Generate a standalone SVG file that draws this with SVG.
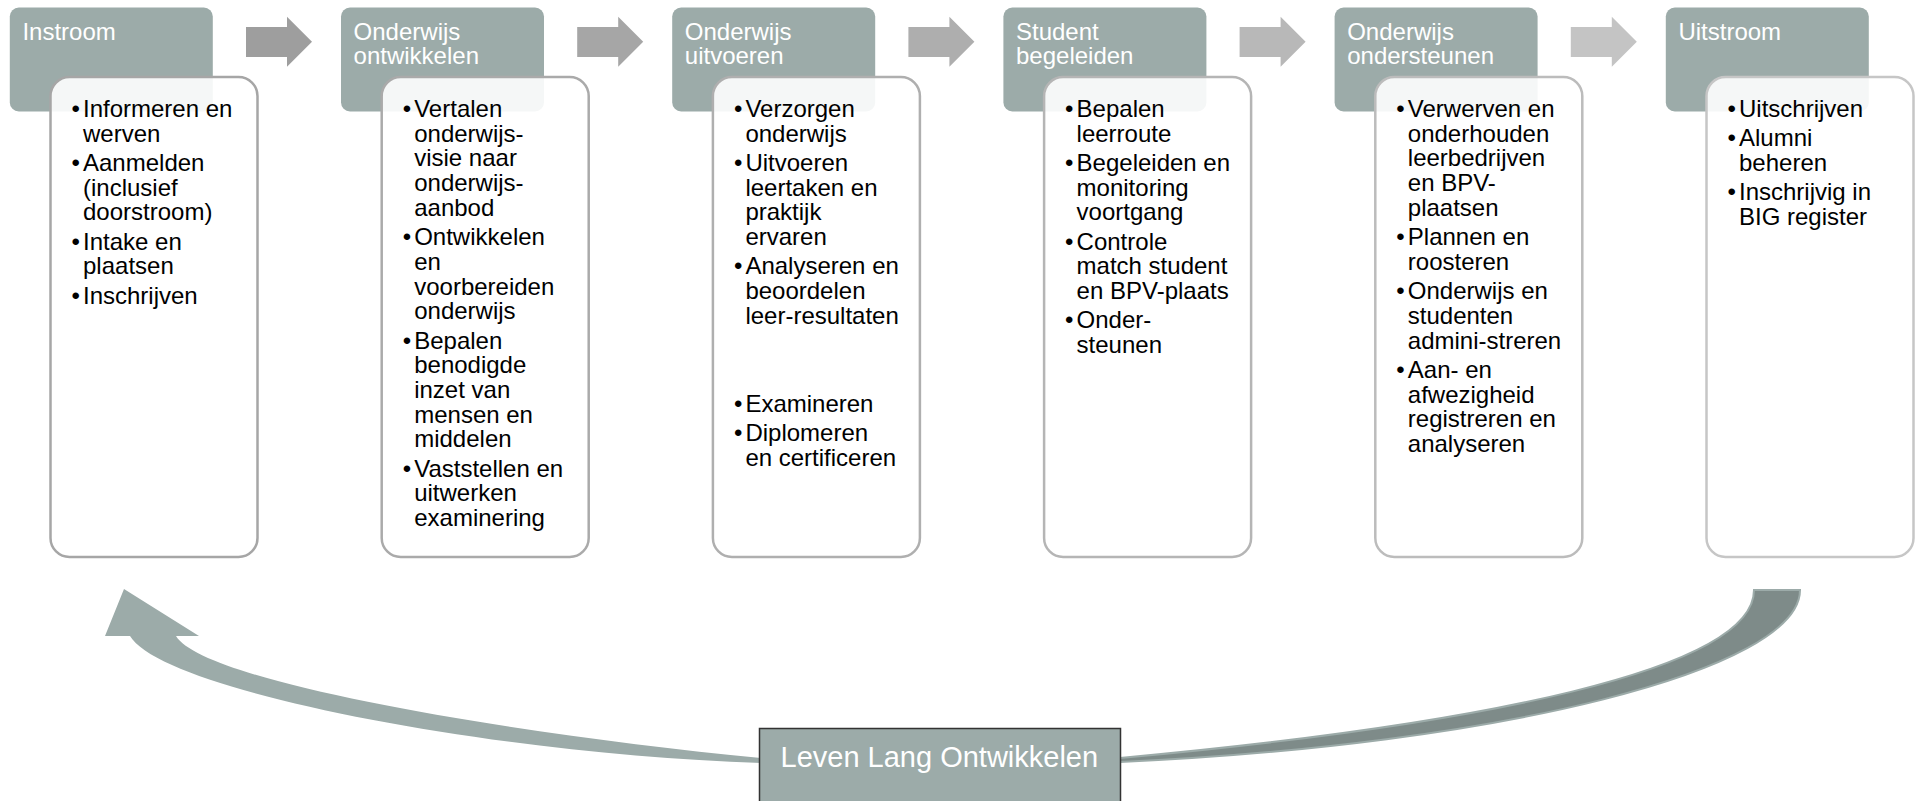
<svg xmlns="http://www.w3.org/2000/svg" width="1921" height="801" viewBox="0 0 1921 801">
<style>
.hdr{fill:#9CABA9}
.box{fill:#ffffff;fill-opacity:0.9;stroke-width:2.5}
.ht{font-family:"Liberation Sans",Arial,sans-serif;font-size:24px;fill:#ffffff}
.bt{font-family:"Liberation Sans",Arial,sans-serif;font-size:24px;fill:#000000}
.lbl{font-family:"Liberation Sans",Arial,sans-serif;font-size:29px;fill:#ffffff}
</style>
<defs>
<path id="arr" d="M0,27 H41 V16.7 L66,41.7 L41,66.7 V57 H0 Z"/>
</defs>
<rect width="1921" height="801" fill="#ffffff"/>

<g id="connectors">
<use href="#arr" x="246" fill="#9E9E9E"/>
<use href="#arr" x="577.2" fill="#A6A6A6"/>
<use href="#arr" x="908.4" fill="#AEAEAE"/>
<use href="#arr" x="1239.6" fill="#B8B8B8"/>
<use href="#arr" x="1570.8" fill="#C4C4C4"/>
<path d="M1120,762 C1500,745 1800,670 1800,590 L1754,590 C1754,670 1480,725 1120,758 Z" fill="#7E8B89" stroke="#9CABA9" stroke-width="2"/>
<path d="M130,636 C163.6,692 500,755 761,763 L761,758 C520,735 204,683 176,636 L199,636 L124,589 L105,636 Z" fill="#9CABA9"/>
</g>

<g id="stage1">
<rect class="hdr" x="9.8" y="7.5" width="203" height="104" rx="9"/>
<text class="ht" x="22.4" y="40">Instroom</text>
<rect class="box" x="50.5" y="77" width="207" height="480" rx="19" stroke="#A6A6A6"/>
<g class="bt">
<text x="71.5" y="117">•</text><text x="83" y="117">Informeren en<tspan x="83" y="141.7">werven</tspan></text>
<text x="71.5" y="171">•</text><text x="83" y="171">Aanmelden<tspan x="83" y="195.7">(inclusief</tspan><tspan x="83" y="220.4">doorstroom)</tspan></text>
<text x="71.5" y="249.7">•</text><text x="83" y="249.7">Intake en<tspan x="83" y="274.4">plaatsen</tspan></text>
<text x="71.5" y="303.7">•</text><text x="83" y="303.7">Inschrijven</text>
</g>
</g>

<g id="stage2">
<rect class="hdr" x="341" y="7.5" width="203" height="104" rx="9"/>
<text class="ht" x="353.6" y="40">Onderwijs<tspan x="353.6" y="64">ontwikkelen</tspan></text>
<rect class="box" x="381.7" y="77" width="207" height="480" rx="19" stroke="#AAAAAA"/>
<g class="bt">
<text x="402.7" y="117">•</text><text x="414.2" y="117">Vertalen<tspan x="414.2" y="141.7">onderwijs-</tspan><tspan x="414.2" y="166.4">visie naar</tspan><tspan x="414.2" y="191.1">onderwijs-</tspan><tspan x="414.2" y="215.8">aanbod</tspan></text>
<text x="402.7" y="245.1">•</text><text x="414.2" y="245.1">Ontwikkelen<tspan x="414.2" y="269.8">en</tspan><tspan x="414.2" y="294.5">voorbereiden</tspan><tspan x="414.2" y="319.2">onderwijs</tspan></text>
<text x="402.7" y="348.5">•</text><text x="414.2" y="348.5">Bepalen<tspan x="414.2" y="373.2">benodigde</tspan><tspan x="414.2" y="397.9">inzet van</tspan><tspan x="414.2" y="422.6">mensen en</tspan><tspan x="414.2" y="447.3">middelen</tspan></text>
<text x="402.7" y="476.6">•</text><text x="414.2" y="476.6">Vaststellen en<tspan x="414.2" y="501.3">uitwerken</tspan><tspan x="414.2" y="526">examinering</tspan></text>
</g>
</g>

<g id="stage3">
<rect class="hdr" x="672.2" y="7.5" width="203" height="104" rx="9"/>
<text class="ht" x="684.8" y="40">Onderwijs<tspan x="684.8" y="64">uitvoeren</tspan></text>
<rect class="box" x="712.9" y="77" width="207" height="480" rx="19" stroke="#AFAFAF"/>
<g class="bt">
<text x="733.9" y="117">•</text><text x="745.4" y="117">Verzorgen<tspan x="745.4" y="141.7">onderwijs</tspan></text>
<text x="733.9" y="171">•</text><text x="745.4" y="171">Uitvoeren<tspan x="745.4" y="195.7">leertaken en</tspan><tspan x="745.4" y="220.4">praktijk</tspan><tspan x="745.4" y="245.1">ervaren</tspan></text>
<text x="733.9" y="274.4">•</text><text x="745.4" y="274.4">Analyseren en<tspan x="745.4" y="299.1">beoordelen</tspan><tspan x="745.4" y="323.8">leer-resultaten</tspan></text>
<text x="733.9" y="411.7">•</text><text x="745.4" y="411.7">Examineren</text>
<text x="733.9" y="441">•</text><text x="745.4" y="441">Diplomeren<tspan x="745.4" y="465.7">en certificeren</tspan></text>
</g>
</g>

<g id="stage4">
<rect class="hdr" x="1003.4" y="7.5" width="203" height="104" rx="9"/>
<text class="ht" x="1016" y="40">Student<tspan x="1016" y="64">begeleiden</tspan></text>
<rect class="box" x="1044.1" y="77" width="207" height="480" rx="19" stroke="#B5B5B5"/>
<g class="bt">
<text x="1065.1" y="117">•</text><text x="1076.6" y="117">Bepalen<tspan x="1076.6" y="141.7">leerroute</tspan></text>
<text x="1065.1" y="171">•</text><text x="1076.6" y="171">Begeleiden en<tspan x="1076.6" y="195.7">monitoring</tspan><tspan x="1076.6" y="220.4">voortgang</tspan></text>
<text x="1065.1" y="249.7">•</text><text x="1076.6" y="249.7">Controle<tspan x="1076.6" y="274.4">match student</tspan><tspan x="1076.6" y="299.1">en BPV-plaats</tspan></text>
<text x="1065.1" y="328.4">•</text><text x="1076.6" y="328.4">Onder-<tspan x="1076.6" y="353.1">steunen</tspan></text>
</g>
</g>

<g id="stage5">
<rect class="hdr" x="1334.6" y="7.5" width="203" height="104" rx="9"/>
<text class="ht" x="1347.2" y="40">Onderwijs<tspan x="1347.2" y="64">ondersteunen</tspan></text>
<rect class="box" x="1375.3" y="77" width="207" height="480" rx="19" stroke="#BCBCBC"/>
<g class="bt">
<text x="1396.3" y="117">•</text><text x="1407.8" y="117">Verwerven en<tspan x="1407.8" y="141.7">onderhouden</tspan><tspan x="1407.8" y="166.4">leerbedrijven</tspan><tspan x="1407.8" y="191.1">en BPV-</tspan><tspan x="1407.8" y="215.8">plaatsen</tspan></text>
<text x="1396.3" y="245.1">•</text><text x="1407.8" y="245.1">Plannen en<tspan x="1407.8" y="269.8">roosteren</tspan></text>
<text x="1396.3" y="299.1">•</text><text x="1407.8" y="299.1">Onderwijs en<tspan x="1407.8" y="323.8">studenten</tspan><tspan x="1407.8" y="348.5">admini-streren</tspan></text>
<text x="1396.3" y="377.8">•</text><text x="1407.8" y="377.8">Aan- en<tspan x="1407.8" y="402.5">afwezigheid</tspan><tspan x="1407.8" y="427.2">registreren en</tspan><tspan x="1407.8" y="451.9">analyseren</tspan></text>
</g>
</g>

<g id="stage6">
<rect class="hdr" x="1665.8" y="7.5" width="203" height="104" rx="9"/>
<text class="ht" x="1678.4" y="40">Uitstroom</text>
<rect class="box" x="1706.5" y="77" width="207" height="480" rx="19" stroke="#C6C6C6"/>
<g class="bt">
<text x="1727.5" y="117">•</text><text x="1739" y="117">Uitschrijven</text>
<text x="1727.5" y="146.3">•</text><text x="1739" y="146.3">Alumni<tspan x="1739" y="171">beheren</tspan></text>
<text x="1727.5" y="200.3">•</text><text x="1739" y="200.3">Inschrijvig in<tspan x="1739" y="225">BIG register</tspan></text>
</g>
</g>

<g id="llo">
<rect x="759.5" y="728.5" width="361" height="82" fill="#9CABA9" stroke="#333333" stroke-width="1.5"/>
<text class="lbl" x="780.5" y="767">Leven Lang Ontwikkelen</text>
</g>
</svg>
